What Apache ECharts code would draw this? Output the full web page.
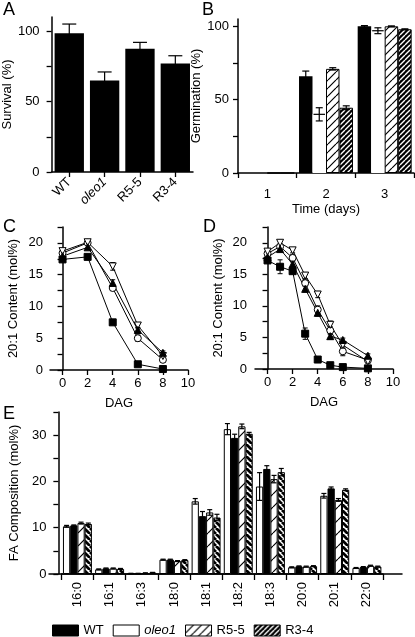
<!DOCTYPE html>
<html>
<head>
<meta charset="utf-8">
<script src="https://cdn.jsdelivr.net/npm/echarts@6/dist/echarts.min.js"></script>
<style>html,body{margin:0;padding:0;background:#fff;}#c{width:415px;height:637px;}</style>
</head>
<body>
<div id="c"></div>
<script>
// ---------- DATA ----------
// Panel A: survival
const aCats = ['WT', 'oleo1', 'R5-5', 'R3-4'];
const aVals = [98.5, 65, 87.5, 77];
const aErr  = [6.5, 6, 4.5, 5.5];

// Panel B: germination
const bDays   = ['1', '2', '3'];
const bWT     = [0, 66, 100];
const bWTErr  = [0, 3.5, 0.5];
const bOleo   = [0, 40, 97];
const bOleoErr= [0, 4.5, 2];
const bR55    = [0, 71, 100];
const bR55Err = [0, 0.8, 0.3];
const bR34    = [0, 44.5, 98];
const bR34Err = [0, 1.3, 0.3];

// Panel C: 20:1 content vs DAG
const cDAG     = [0, 2, 4, 6, 8];
const cWT      = [17.4, 17.8, 7.5, 0.9, 0.15];
const cWTErr   = [0.3, 0.3, 0.3, 0.3, 0.1];
const cOleo    = [18.4, 20.0, 12.9, 5.0, 1.6];
const cOleoErr = [0.3, 0.3, 0.4, 0.5, 0.3];
const cR55     = [18.7, 20.1, 16.3, 7.0, 2.2];
const cR55Err  = [0.3, 0.3, 0.6, 0.4, 0.4];
const cR34     = [17.9, 19.3, 13.7, 6.3, 2.7];
const cR34Err  = [0.3, 0.3, 0.5, 0.4, 0.3];

// Panel D: 20:1 content vs DAG
const dDAG     = [0, 1, 2, 3, 4, 5, 6, 8];
const dWT      = [17.2, 16.2, 15.5, 5.6, 1.5, 0.6, 0.3, 0.1];
const dWTErr   = [0.3, 1.1, 0.4, 0.9, 0.2, 0.1, 0.1, 0.1];
const dOleo    = [18.3, 19.4, 17.6, 13.6, 9.4, 6.1, 2.8, 1.4];
const dOleoErr = [0.3, 0.4, 0.5, 0.5, 0.6, 0.6, 0.7, 0.3];
const dR55     = [18.6, 20.0, 18.8, 14.8, 11.8, 7.0, 3.8, 1.2];
const dR55Err  = [0.3, 0.4, 0.4, 0.5, 0.5, 0.6, 0.5, 0.3];
const dR34     = [17.7, 19.0, 16.6, 12.7, 8.9, 5.2, 4.6, 2.1];
const dR34Err  = [0.3, 0.3, 0.4, 0.5, 0.5, 0.5, 0.3, 0.3];

// Panel E: FA composition
const eCats    = ['16:0','16:1','16:3','18:0','18:1','18:2','18:3','20:0','20:1','22:0'];
const eOleo    = [10.3, 1.0, 0.1, 3.1, 15.7, 31.3, 18.9, 1.45, 16.9, 1.3];
const eOleoErr = [0.2, 0.1, 0.05, 0.1, 0.6, 1.2, 3.0, 0.1, 0.5, 0.1];
const eWT      = [10.5, 1.2, 0.1, 3.1, 12.5, 29.4, 22.7, 1.65, 18.5, 1.5];
const eWTErr   = [0.1, 0.1, 0.05, 0.1, 1.0, 0.8, 0.7, 0.1, 0.3, 0.1];
const eR55     = [11.0, 1.2, 0.2, 2.8, 13.3, 31.9, 20.5, 1.6, 16.0, 1.8];
const eR55Err  = [0.2, 0.1, 0.05, 0.1, 0.6, 0.5, 0.8, 0.1, 0.3, 0.1];
const eR34     = [10.8, 1.1, 0.3, 3.0, 12.2, 30.3, 22.0, 1.7, 18.2, 1.6];
const eR34Err  = [0.2, 0.1, 0.05, 0.1, 0.7, 0.3, 0.8, 0.1, 0.2, 0.1];

const legendNames = ['WT', 'oleo1', 'R5-5', 'R3-4'];

// ---------- STYLE HELPERS ----------
const FONT = '"Liberation Sans", Arial, Helvetica, sans-serif';
const TXT = {color:'#000', fontSize:13, fontFamily:FONT};

function hatch(bg, fg, period, lw, dir) {
  const c = document.createElement('canvas');
  c.width = period; c.height = period;
  const g = c.getContext('2d');
  g.fillStyle = bg; g.fillRect(0, 0, period, period);
  g.strokeStyle = fg; g.lineWidth = lw; g.beginPath();
  for (let k = -1; k <= 1; k++) {
    if (dir === '/') { g.moveTo(k*period, period); g.lineTo(k*period + period, 0); }
    else { g.moveTo(k*period, 0); g.lineTo(k*period + period, period); }
  }
  g.stroke();
  return {image: c, repeat: 'repeat'};
}
const patB55 = hatch('#fff', '#000', 8, 1.2, '/');
const patB34 = hatch('#000', '#fff', 5, 1.4, '/');
const patE55 = hatch('#fff', '#000', 13, 1.2, '/');
const patE34 = hatch('#fff', '#000', 6, 2.8, '\\');

function axisLineStyle() { return {show:true, lineStyle:{color:'#000', width:1.5}}; }
function tickStyle(len) { return {show:true, length:len, lineStyle:{color:'#000', width:1.3}}; }

// grouped bar error renderer (midK: series index that also gets a line at the mean)
function groupErr(n, gapFrac, capW, midK) {
  return function (params, api) {
    const ci = api.value(0), v = api.value(1), e = api.value(2), k = api.value(3);
    if (!e) return;
    const band = api.size([1, 0])[0];
    const gw = band * (1 - gapFrac);
    const bw = gw / n;
    const c = api.coord([ci, v]);
    const x = c[0] - gw / 2 + bw * (k + 0.5);
    const yt = api.coord([ci, v + e])[1];
    const yb = api.coord([ci, v - e])[1];
    const st = {stroke:'#000', lineWidth:1.2};
    const kids = [
      {type:'line', shape:{x1:x, y1:yt, x2:x, y2:yb}, style:st},
      {type:'line', shape:{x1:x-capW/2, y1:yt, x2:x+capW/2, y2:yt}, style:st},
      {type:'line', shape:{x1:x-capW/2, y1:yb, x2:x+capW/2, y2:yb}, style:st}
    ];
    if (k === midK) kids.push({type:'line', shape:{x1:x-bw/2+1, y1:c[1], x2:x+bw/2-1, y2:c[1]}, style:st});
    return {type:'group', children:kids};
  };
}
function pointErr(capW) {
  return function (params, api) {
    const xv = api.value(0), v = api.value(1), e = api.value(2);
    const x = api.coord([xv, v])[0];
    const yt = api.coord([xv, v + e])[1];
    const yb = api.coord([xv, v - e])[1];
    const st = {stroke:'#000', lineWidth:1};
    return {type:'group', children:[
      {type:'line', shape:{x1:x, y1:yt, x2:x, y2:yb}, style:st},
      {type:'line', shape:{x1:x-capW/2, y1:yt, x2:x+capW/2, y2:yt}, style:st},
      {type:'line', shape:{x1:x-capW/2, y1:yb, x2:x+capW/2, y2:yb}, style:st}
    ]};
  };
}
function groupData(valsList, errList) {
  const out = [];
  valsList.forEach((vals, k) => vals.forEach((v, i) => out.push([i, v, errList[k][i], k])));
  return out;
}
function pointData(xs, valsList, errList) {
  const out = [];
  valsList.forEach((vals, k) => vals.forEach((v, i) => out.push([xs[i], v, errList[k][i]])));
  return out;
}

// ---------- AXES ----------
function catX(gi, cats, extra) {
  return Object.assign({
    type:'category', gridIndex:gi, data:cats,
    axisLine:axisLineStyle(), axisTick:tickStyle(5),
    axisLabel:Object.assign({}, TXT), splitLine:{show:false}
  }, extra || {});
}
function valY(gi, max, ticks, labels, extra) {
  return Object.assign({
    type:'value', gridIndex:gi, min:0, max:max,
    axisLine:axisLineStyle(),
    axisTick:Object.assign(tickStyle(5), {customValues:ticks}),
    axisLabel:Object.assign({}, TXT, {customValues:labels}),
    splitLine:{show:false},
    nameLocation:'middle', nameTextStyle:Object.assign({}, TXT)
  }, extra || {});
}
function dagX(gi) {
  return {
    type:'value', gridIndex:gi, min:-1, max:10, interval:1,
    axisLine:axisLineStyle(),
    axisTick:Object.assign(tickStyle(5), {customValues:[0,2,4,6,8,10]}),
    axisLabel:Object.assign({}, TXT, {customValues:[0,2,4,6,8,10], margin:7}),
    splitLine:{show:false},
    name:'DAG', nameLocation:'middle', nameGap:27, nameTextStyle:Object.assign({}, TXT)
  };
}

const yTickC = [0,2.5,5,7.5,10,12.5,15,17.5,20,22.5];

const option = {
  animation:false,
  backgroundColor:'#fff',
  textStyle:{fontFamily:FONT},
  grid:[
    {left:48, top:17, width:145, height:155},
    {left:238, top:19, width:176, height:154},
    {left:50, top:227, width:138, height:143},
    {left:255, top:227, width:138, height:142},
    {left:52, top:412, width:331, height:162},
    {left:49, top:412, width:353, height:162}
  ],
  xAxis:[
    catX(0, aCats, {
      axisTick:Object.assign(tickStyle(5), {alignWithLabel:true}),
      axisLabel:Object.assign({}, TXT, {rotate:45, margin:8,
        formatter:v => v === 'oleo1' ? '{i|oleo1}' : v,
        rich:{i:{fontStyle:'italic', fontSize:13, fontFamily:FONT, color:'#000'}}})
    }),
    catX(1, bDays, {
      axisLabel:Object.assign({}, TXT, {margin:15}),
      name:'Time (days)', nameLocation:'middle', nameGap:30, nameTextStyle:Object.assign({}, TXT)
    }),
    dagX(2),
    dagX(3),
    catX(4, eCats, {
      axisTick:tickStyle(6),
      axisLabel:Object.assign({}, TXT, {rotate:90, margin:8})
    }),
    {type:'value', gridIndex:5, min:0, max:1, axisLine:axisLineStyle(),
     axisTick:{show:false}, axisLabel:{show:false}, splitLine:{show:false}}
  ],
  yAxis:[
    valY(0, 110, [0,25,50,75,100], [0,50,100], {name:'Survival (%)', nameGap:32, axisLabel:Object.assign({}, TXT, {customValues:[0,50,100], margin:12})}),
    valY(1, 105, [0,25,50,75,100], [0,50,100], {name:'Germination (%)', nameGap:26, axisLabel:Object.assign({}, TXT, {customValues:[0,50,100], margin:9})}),
    valY(2, 22.5, yTickC, [0,5,10,15,20], {interval:2.5, name:'20:1 Content (mol%)', nameGap:30, axisLabel:Object.assign({}, TXT, {customValues:[0,5,10,15,20], margin:7})}),
    valY(3, 22.5, yTickC, [0,5,10,15,20], {interval:2.5, name:'20:1 Content (mol%)', nameGap:30, axisLabel:Object.assign({}, TXT, {customValues:[0,5,10,15,20], margin:8})}),
    valY(4, 35, [0,5,10,15,20,25,30,35], [0,10,20,30], {offset:3, name:'FA Composition (mol%)', nameGap:31, axisLabel:Object.assign({}, TXT, {customValues:[0,10,20,30], margin:12})}),
    {type:'value', gridIndex:5, show:false, min:0, max:1}
  ],
  legend:{
    top:619, left:47, icon:'rect', itemWidth:26, itemHeight:11, itemGap:9,
    selectedMode:false, textStyle:Object.assign({}, TXT),
    data:[
      {name:'WT', itemStyle:{color:'#000', borderColor:'#000', borderWidth:1}},
      {name:'oleo1', textStyle:{fontStyle:'italic'}, itemStyle:{color:'#fff', borderColor:'#000', borderWidth:1}},
      {name:'R5-5', itemStyle:{color:patB55, borderColor:'#000', borderWidth:1}},
      {name:'R3-4', itemStyle:{color:patB34, borderColor:'#000', borderWidth:1}}
    ]
  },
  graphic:[
    {type:'text', left:3, top:1, style:{text:'A', fontSize:18, fontFamily:FONT, fill:'#000'}},
    {type:'text', left:202, top:1, style:{text:'B', fontSize:18, fontFamily:FONT, fill:'#000'}},
    {type:'text', left:3, top:218, style:{text:'C', fontSize:18, fontFamily:FONT, fill:'#000'}},
    {type:'text', left:203, top:218, style:{text:'D', fontSize:18, fontFamily:FONT, fill:'#000'}},
    {type:'text', left:3, top:405, style:{text:'E', fontSize:18, fontFamily:FONT, fill:'#000'}}
  ],
  series:[]
};

const S = option.series;
// Panel E bars (order in picture: oleo1, WT, R5-5, R3-4)
const eVals = [eOleo, eWT, eR55, eR34];
const eErrs = [eOleoErr, eWTErr, eR55Err, eR34Err];
const eNames = ['oleo1', 'WT', 'R5-5', 'R3-4'];
const eColors = ['#fff', '#000', patE55, patE34];
eVals.forEach((vals, k) => S.push({
  type:'bar', name:eNames[k], xAxisIndex:4, yAxisIndex:4, data:vals,
  barGap:0, barCategoryGap:'10%',
  itemStyle:{color:eColors[k], borderColor:'#000', borderWidth:1}
}));
S.push({type:'custom', xAxisIndex:4, yAxisIndex:4, encode:{x:0, y:1}, z:5, silent:true,
  renderItem:groupErr(4, 0.10, 5, -1), data:groupData(eVals, eErrs)});

// Panel A
S.push({type:'bar', name:'Survival', xAxisIndex:0, yAxisIndex:0, data:aVals,
  barCategoryGap:'17%', itemStyle:{color:'#000'}});
S.push({type:'custom', xAxisIndex:0, yAxisIndex:0, encode:{x:0, y:1}, z:5, silent:true,
  renderItem:groupErr(1, 0.17, 14, -1), data:groupData([aVals], [aErr])});

// Panel B
const bVals = [bWT, bOleo, bR55, bR34];
const bErrs = [bWTErr, bOleoErr, bR55Err, bR34Err];
const bStyles = [
  {color:'#000'},
  {color:'#fff'},
  {color:patB55, borderColor:'#000', borderWidth:1},
  {color:patB34, borderColor:'#000', borderWidth:1}
];
bVals.forEach((vals, k) => S.push({
  type:'bar', name:legendNames[k], xAxisIndex:1, yAxisIndex:1, data:vals,
  barGap:0, barCategoryGap:'8%', itemStyle:bStyles[k]
}));
S.push({type:'custom', xAxisIndex:1, yAxisIndex:1, encode:{x:0, y:1}, z:5, silent:true,
  renderItem:groupErr(4, 0.08, 7, 1), data:groupData(bVals, bErrs)});

// Panels C and D lines
const markers = [
  {symbol:'rect', color:'#000', rot:0},
  {symbol:'circle', color:'#fff', rot:0},
  {symbol:'triangle', color:'#fff', rot:180},
  {symbol:'triangle', color:'#000', rot:0}
];
function addLines(panel, gi, xs, valsList, errList) {
  S.push({type:'custom', xAxisIndex:gi, yAxisIndex:gi, encode:{x:0, y:1}, z:3, silent:true,
    renderItem:pointErr(5), data:pointData(xs, valsList, errList)});
  valsList.forEach((vals, k) => S.push({
    type:'line', name:panel + ' ' + legendNames[k], xAxisIndex:gi, yAxisIndex:gi,
    data:vals.map((v, i) => [xs[i], v]),
    symbol:markers[k].symbol, symbolRotate:markers[k].rot, symbolSize:7, z:4,
    lineStyle:{color:'#000', width:1},
    itemStyle:{color:markers[k].color, borderColor:'#000', borderWidth:1}
  }));
}
addLines('C', 2, cDAG, [cWT, cOleo, cR55, cR34], [cWTErr, cOleoErr, cR55Err, cR34Err]);
addLines('D', 3, dDAG, [dWT, dOleo, dR55, dR34], [dWTErr, dOleoErr, dR55Err, dR34Err]);

const chart = echarts.init(document.getElementById('c'), null, {renderer:'canvas'});
chart.setOption(option);
</script>
</body>
</html>
